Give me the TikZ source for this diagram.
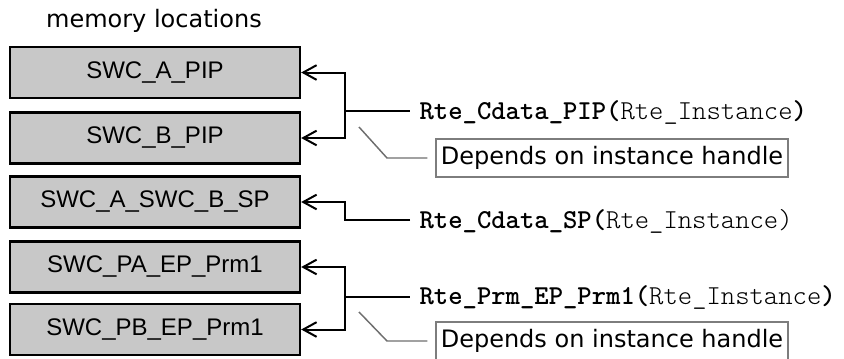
\documentclass[tikz,border=0pt]{standalone}
\usepackage{fontspec}
\setmainfont{Liberation Sans}
\setmonofont{lmmonolt10-regular.otf}[BoldFont=lmmonolt10-bold.otf]
\newfontfamily\verdfont{DejaVu Sans}
\usepackage{xcolor}
\usepackage{tikz}
\usetikzlibrary{arrows.meta, positioning, calc}

\definecolor{memfill}{RGB}{200,200,200}
\definecolor{leadgray}{RGB}{110,110,110}
\definecolor{framegray}{RGB}{125,125,125}
\newcommand{\bigsize}{\fontsize{18}{22}\selectfont}
\newcommand{\codesize}{\fontsize{20.5}{24}\selectfont}

\begin{document}
\begin{tikzpicture}[
  x=0.75pt, y=-0.75pt,
  font=\bigsize,
  mem/.style={draw, line width=1.8pt, fill=memfill, minimum width=217.5pt, minimum height=38pt, inner sep=0pt},
  fn/.style={anchor=west, inner xsep=7pt, inner ysep=0pt, font=\codesize\ttfamily},
  note/.style={draw=framegray, line width=1.1pt, minimum width=264pt, minimum height=28.5pt, inner xsep=1pt, inner ysep=0pt, font=\bigsize\verdfont},
  arr/.style={-{Straight Barb[length=10pt, width=11pt, line width=1.5pt]}, line width=1.5pt},
  lead/.style={draw=leadgray, line width=1.1pt, shorten >=6pt},
]
\useasboundingbox (0,0) rectangle (844,358);
\node[anchor=base, font=\bigsize\verdfont] (title) at (154,27) {memory locations};
% memory locations
\node[mem] (pipA) at (155,72.5) {SWC\_A\_PIP};
\node[mem] (pipB) at (155,138) {SWC\_B\_PIP};
\node[mem] (sp) at (155,202) {SWC\_A\_SWC\_B\_SP};
\node[mem] (prmA) at (155,267) {SWC\_PA\_EP\_Prm1};
\node[mem] (prmB) at (155,329.5) {SWC\_PB\_EP\_Prm1};
% access functions
\node[fn] (fPIP) at (410,112) {\textbf{Rte\_Cdata\_PIP(}Rte\_Instance\textbf{)}};
\node[fn] (fSP) at (410,221) {\textbf{Rte\_Cdata\_SP(}Rte\_Instance)};
\node[fn] (fPrm) at (410,297) {\textbf{Rte\_Prm\_EP\_Prm1(}Rte\_Instance\textbf{)}};
\coordinate (jPIP) at (345,111);
\coordinate (jSP) at (345,220);
\coordinate (jPrm) at (345,297);
\draw[arr] (jPIP) |- (pipA.east);
\draw[arr] (jPIP) |- (pipB.east);
\draw[line width=1.5pt] (jPIP) -- (jPIP -| fPIP.west);
\draw[arr] (jSP -| fSP.west) -- (jSP) |- (sp.east);
\draw[arr] (jPrm) |- (prmA.east);
\draw[arr] (jPrm) |- (prmB.east);
\draw[line width=1.5pt] (jPrm) -- (jPrm -| fPrm.west);
% notes
\node[note] (depPIP) at (612,158) {Depends on instance handle};
\node[note] (depPrm) at (612,341) {Depends on instance handle};
\coordinate (cPIP) at (359,127);
\coordinate (kPIP) at (387,158);
\coordinate (cPrm) at (359,312);
\coordinate (kPrm) at (387,341);
\draw[lead] (cPIP) -- (kPIP) -- (depPIP.west);
\draw[lead] (cPrm) -- (kPrm) -- (depPrm.west);
\end{tikzpicture}
\end{document}
